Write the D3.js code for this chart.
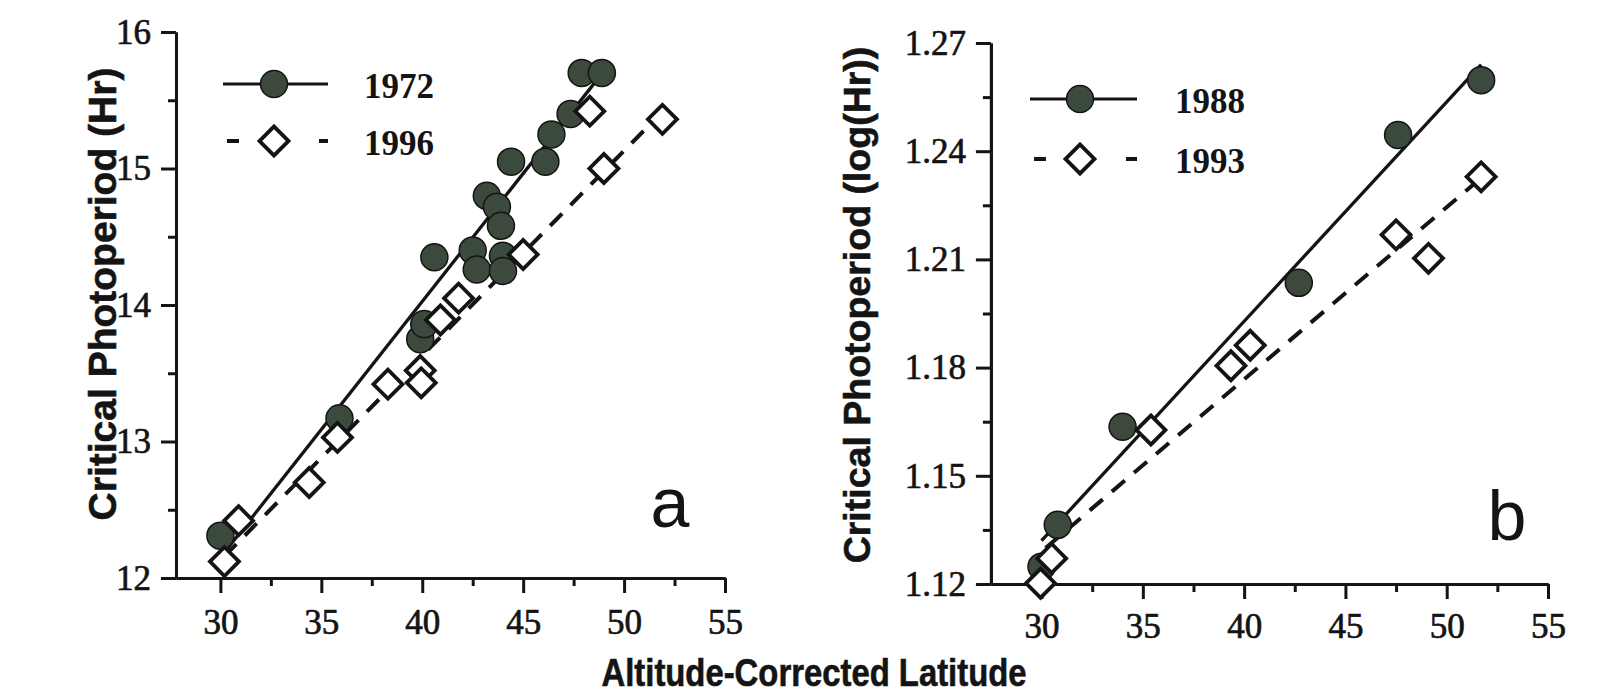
<!DOCTYPE html>
<html><head><meta charset="utf-8">
<script src="https://cdn.jsdelivr.net/npm/d3@7"></script>
<style>
html,body{margin:0;padding:0;background:#fff;}
svg{display:block;}
</style></head>
<body>
<svg id="chart" width="1606" height="699"></svg>
<script>
// ---------- data ----------
const xTicks = [30, 35, 40, 45, 50, 55];
const xMinor = [32.5, 37.5, 42.5, 47.5, 52.5];
const yTicksA = [12, 13, 14, 15, 16];
const yMinorA = [12.5, 13.5, 14.5, 15.5];
const yTicksB = [1.12, 1.15, 1.18, 1.21, 1.24, 1.27];
const yLabelsB = ["1.12", "1.15", "1.18", "1.21", "1.24", "1.27"];
const yMinorB = [1.135, 1.165, 1.195, 1.225, 1.255];

// panel a : 1972 (filled circles), 1996 (open diamonds)
const a1972 = [[30.0,12.31],[35.9,13.17],[39.9,13.75],[40.1,13.86],[40.6,14.35],[42.5,14.40],[42.7,14.26],
  [43.2,14.80],[43.7,14.72],[43.9,14.58],[44.0,14.36],[44.0,14.25],[44.4,15.05],[46.1,15.05],[46.4,15.25],
  [47.35,15.40],[47.9,15.70],[48.9,15.70]];
const a1996 = [[30.2,12.12],[30.9,12.42],[34.4,12.70],[35.8,13.03],[38.3,13.42],[39.9,13.52],[39.95,13.43],
  [40.9,13.89],[41.8,14.05],[45.0,14.37],[48.3,15.42],[49.0,15.00],[51.9,15.36]];
const fitA1972 = [[30.0,12.15],[48.5,15.62]];
const fitA1996 = [[30.2,12.16],[52.0,15.43]];

// panel b : 1988 (filled circles), 1993 (open diamonds)
const b1988 = [[30.0,1.1248],[30.8,1.1364],[34.0,1.1636],[42.7,1.2035],[47.6,1.2445],[51.7,1.2597]];
const b1993 = [[29.95,1.1202],[30.5,1.1271],[35.4,1.1627],[39.35,1.1805],[40.3,1.1862],[47.5,1.2168],
  [49.1,1.2103],[51.7,1.2329]];
const fitB1988 = [[30.0,1.132],[51.7,1.264]];
const fitB1993 = [[30.2,1.130],[51.7,1.2326]];

const seriesNames = {a: ["1972", "1996"], b: ["1988", "1993"]};

// ---------- drawing ----------
const svg = d3.select("#chart");
const INK = "#141414";
const FILL = "#3c4a3d";
const serif = "'Liberation Serif','Times New Roman',serif";
const sansB = "'Liberation Sans',Arial,Helvetica,sans-serif";

function drawPanel(p) {
  const x = d3.scaleLinear().domain(p.xDomain).range(p.xRange);
  const y = d3.scaleLinear().domain(p.yDomain).range(p.yRange);
  const g = svg.append("g");
  const y0 = p.yRange[0], x0 = p.xRange[0];

  // minor ticks
  g.append("g").attr("transform", `translate(0,${y0})`)
    .call(d3.axisBottom(x).tickValues(xMinor).tickSize(8).tickSizeOuter(0).tickFormat(""));
  g.append("g").attr("transform", `translate(${x0},0)`)
    .call(d3.axisLeft(y).tickValues(p.yMinor).tickSize(8).tickSizeOuter(0).tickFormat(""));
  // major
  g.append("g").attr("transform", `translate(0,${y0})`)
    .call(d3.axisBottom(x).tickValues(xTicks).tickSize(15).tickSizeOuter(0).tickPadding(p.xPad).tickFormat(d3.format("d")));
  g.append("g").attr("transform", `translate(${x0},0)`)
    .call(d3.axisLeft(y).tickValues(p.yTicks).tickSize(15).tickSizeOuter(0).tickPadding(10)
      .tickFormat((d, i) => p.yLabels[i]));

  g.selectAll(".domain, .tick line").attr("stroke", INK).attr("stroke-width", 3);
  g.selectAll(".tick text").attr("font-family", serif).attr("font-size", 35)
    .attr("fill", INK).attr("stroke", INK).attr("stroke-width", 0.7);

  const line = d3.line().x(d => x(d[0])).y(d => y(d[1]));
  g.append("path").attr("d", line(p.fit1)).attr("fill", "none").attr("stroke", INK).attr("stroke-width", 3.3);
  g.append("path").attr("d", line(p.fit2)).attr("fill", "none").attr("stroke", INK).attr("stroke-width", 4)
    .attr("stroke-dasharray", "17 12");

  const diamond = d3.symbol(d3.symbolSquare, 420);
  g.selectAll("circle.s1").data(p.s1).join("circle").attr("class", "s1")
    .attr("cx", d => x(d[0])).attr("cy", d => y(d[1])).attr("r", 13.5)
    .attr("fill", FILL).attr("stroke", INK).attr("stroke-width", 1.5);
  g.selectAll("path.s2").data(p.s2).join("path").attr("class", "s2")
    .attr("d", diamond).attr("transform", d => `translate(${x(d[0])},${y(d[1])}) rotate(45)`)
    .attr("fill", "#fff").attr("stroke", INK).attr("stroke-width", 3.8).attr("stroke-linejoin", "miter");

  // legend
  const L = p.legend;
  g.append("line").attr("x1", L.x1).attr("x2", L.x2).attr("y1", L.y1).attr("y2", L.y1)
    .attr("stroke", INK).attr("stroke-width", 3);
  g.append("circle").attr("cx", L.mx).attr("cy", L.y1).attr("r", 13.5)
    .attr("fill", FILL).attr("stroke", INK).attr("stroke-width", 1.5);
  g.append("line").attr("x1", L.x1 + 4).attr("x2", L.x2).attr("y1", L.y2).attr("y2", L.y2)
    .attr("stroke", INK).attr("stroke-width", 4).attr("stroke-dasharray", "12 80 12");
  g.append("path").attr("d", diamond).attr("transform", `translate(${L.mx},${L.y2}) rotate(45)`)
    .attr("fill", "#fff").attr("stroke", INK).attr("stroke-width", 3.8);
  [[p.names[0], L.y1], [p.names[1], L.y2]].forEach(([t, yy]) => {
    g.append("text").attr("x", L.tx).attr("y", yy + 2).attr("dy", "0.35em").text(t)
      .attr("font-family", serif).attr("font-weight", "bold").attr("font-size", 35)
      .attr("fill", INK);
  });

  // y title
  g.append("text").attr("transform", `translate(${p.yt.x},${p.yt.y}) rotate(-90)`)
    .attr("text-anchor", "middle").attr("dy", "0.35em").text(p.yt.text)
    .attr("font-family", sansB).attr("font-weight", "bold").attr("font-size", p.yt.size)
    .attr("fill", INK).attr("stroke", INK).attr("stroke-width", 0.6);

  // panel letter
  g.append("text").attr("x", p.letter.x).attr("y", p.letter.y).attr("text-anchor", "middle")
    .text(p.letter.t).attr("font-family", sansB)
    .attr("font-size", 70).attr("fill", INK);
}

drawPanel({
  xDomain: [27.8, 55], xRange: [176, 725], yDomain: [12, 16], yRange: [578, 32],
  yTicks: yTicksA, yLabels: yTicksA.map(String), yMinor: yMinorA, xPad: 16,
  s1: a1972, s2: a1996, fit1: fitA1972, fit2: fitA1996, names: seriesNames.a,
  legend: {x1: 223, x2: 328, mx: 274, y1: 84, y2: 141, tx: 364},
  yt: {x: 102, y: 294, size: 39, text: "Critical Photoperiod (Hr)"},
  letter: {x: 670, y: 527, t: "a"}
});
drawPanel({
  xDomain: [27.5, 55], xRange: [990.9, 1548], yDomain: [1.12, 1.27], yRange: [584, 43],
  yTicks: yTicksB, yLabels: yLabelsB, yMinor: yMinorB, xPad: 14,
  s1: b1988, s2: b1993, fit1: fitB1988, fit2: fitB1993, names: seriesNames.b,
  legend: {x1: 1030, x2: 1137, mx: 1080, y1: 99, y2: 159, tx: 1175},
  yt: {x: 857, y: 305, size: 37.5, text: "Critical Photoperiod (log(Hr))"},
  letter: {x: 1507, y: 540, t: "b"}
});

// shared x title
svg.append("text").attr("x", 814).attr("y", 686).attr("text-anchor", "middle")
  .text("Altitude-Corrected Latitude")
  .attr("font-family", sansB).attr("font-weight", "bold").attr("font-size", 38)
  .attr("textLength", 425).attr("lengthAdjust", "spacingAndGlyphs")
  .attr("fill", INK).attr("stroke", INK).attr("stroke-width", 0.6);
</script>
</body></html>
